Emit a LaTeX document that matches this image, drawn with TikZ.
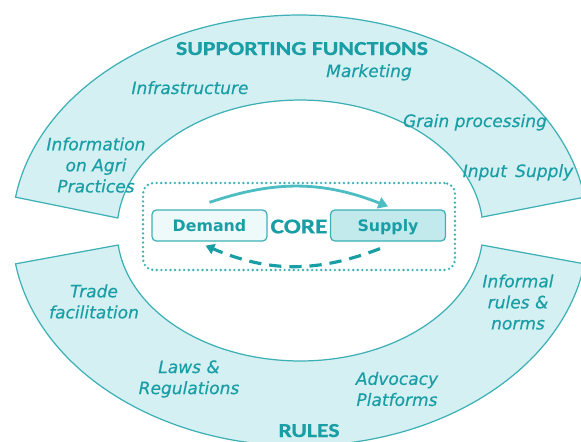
\documentclass[tikz,border=0pt]{standalone}
\usepackage{fontspec}
\setmainfont{DejaVu Sans}
\newfontfamily\hdfont[FakeStretch=1.2,FakeBold=0.6]{Carlito}
\newfontfamily\itemfont[FakeBold=0.35]{DejaVu Sans}
\usetikzlibrary{calc,arrows.meta}
\definecolor{bandfill}{HTML}{D4F0F2}
\definecolor{bandline}{HTML}{3DB0B6}
\definecolor{txt}{HTML}{1A9EA6}
\definecolor{demfill}{HTML}{EEF9FA}
\definecolor{supfill}{HTML}{C2E9EC}
\definecolor{arrowc}{HTML}{4CBDC3}
\tikzset{
  band/.style={fill=bandfill, draw=bandline, line width=0.7pt, line join=miter},
  head/.style={text=txt, font=\hdfont\bfseries\fontsize{11.3}{13}\selectfont, inner sep=0pt},
  item/.style={text=txt, font=\itemfont\itshape\fontsize{9.7}{12}\selectfont, inner sep=0pt, align=center},
  corebox/.style={draw=bandline, line width=1.5pt, dash pattern=on 0pt off 2.6pt, line cap=round,
    rounded corners=6pt, minimum width=6.24cm, minimum height=1.74cm, text=txt,
    font=\hdfont\bfseries\fontsize{12}{14}\selectfont, inner sep=0pt},
  market/.style={draw=bandline, line width=0.7pt, rounded corners=2.5pt, minimum width=2.3cm,
    minimum height=0.62cm, text=txt, font=\bfseries\fontsize{9}{11}\selectfont,
    text height=7pt, text depth=0pt, inner sep=0pt},
  flow/.style={draw=arrowc, line width=1.6pt, -{Triangle[length=5.5pt,width=6.5pt]}},
  backflow/.style={draw=txt, line width=1.8pt, dash pattern=on 7pt off 4.5pt, -{Triangle[length=5pt,width=6pt]}}
}
\begin{document}
\begin{tikzpicture}[x=0.02cm, y=0.02cm]
\useasboundingbox (0,0) rectangle (581,441);
\coordinate (C) at (300,210.5);
\begin{scope}
\clip (0,0) rectangle (581,441);
\path[band] (C) ++(171.1:5.76cm and 4.31cm)
  arc[start angle=171.1, end angle=8.9, x radius=5.76cm, y radius=4.31cm]
  -- ($(C)+(5.9:3.66cm and 2.61cm)$)
  arc[start angle=5.9, end angle=174.5, x radius=3.66cm, y radius=2.61cm] -- cycle;
\path[band] (C) ++(188.9:5.76cm and 4.31cm)
  arc[start angle=188.9, end angle=351.1, x radius=5.76cm, y radius=4.31cm]
  -- ($(C)+(353.6:3.66cm and 2.61cm)$)
  arc[start angle=353.6, end angle=186.4, x radius=3.66cm, y radius=2.61cm] -- cycle;
\end{scope}

\node[head, anchor=base] (sf) at (302,386) {SUPPORTING FUNCTIONS};
\node[item, anchor=base] (mkt) at (369,364) {Marketing};
\node[item, anchor=base] (inf) at (190,347) {Infrastructure};
\node[item] (info) at (96,276) {Information\\on Agri\\Practices};
\node[item, anchor=base] (grain) at (475,314) {Grain processing};
\node[item, anchor=base] (input) at (518,264) {Input\, Supply};

\node[corebox] (core) at (299,214.5) {CORE};
\node[market, fill=demfill] (dem) at (209.5,215.5) {Demand};
\node[market, fill=supfill] (sup) at (388,215.5) {Supply};
\draw[flow] ([yshift=0.14cm]dem.north) to[bend left=20] ([yshift=0.06cm]sup.north);
\draw[backflow] ([xshift=-0.16cm,yshift=-0.14cm]sup.south) to[bend left=22] ([xshift=-0.08cm,yshift=-0.08cm]dem.south);

\node[item] (trade) at (94,139.5) {Trade\\facilitation};
\node[item] (informal) at (518,139) {Informal\\rules \&\\norms};
\node[item] (laws) at (189,62) {Laws \&\\Regulations};
\node[item] (adv) at (397,52) {Advocacy\\Platforms};
\node[head, anchor=base] (rules) at (309,4) {RULES};
\end{tikzpicture}
\end{document}
